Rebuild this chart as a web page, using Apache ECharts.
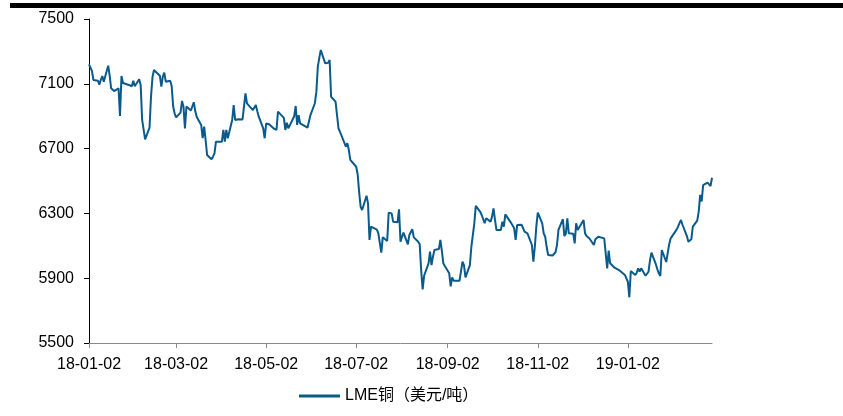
<!DOCTYPE html>
<html>
<head>
<meta charset="utf-8">
<script src="https://cdn.jsdelivr.net/npm/echarts@6/dist/echarts.min.js"></script>
<style>
  html, body { margin: 0; padding: 0; background: #fff; }
  #chart { width: 843px; height: 416px; }
</style>
</head>
<body>
<div id="chart"></div>
<script>
// LME copper daily price, USD per tonne
const dates = [
  '2018-01-02','2018-01-03','2018-01-04','2018-01-05','2018-01-08','2018-01-09','2018-01-10','2018-01-11','2018-01-12','2018-01-15','2018-01-16','2018-01-17','2018-01-18','2018-01-19','2018-01-22','2018-01-23','2018-01-24','2018-01-25','2018-01-26','2018-01-29','2018-01-30','2018-01-31',
  '2018-02-01','2018-02-02','2018-02-05','2018-02-06','2018-02-07','2018-02-08','2018-02-09','2018-02-12','2018-02-13','2018-02-14','2018-02-15','2018-02-16','2018-02-19','2018-02-20','2018-02-21','2018-02-22','2018-02-23','2018-02-26','2018-02-27','2018-02-28',
  '2018-03-01','2018-03-02','2018-03-05','2018-03-06','2018-03-07','2018-03-08','2018-03-09','2018-03-12','2018-03-13','2018-03-14','2018-03-15','2018-03-16','2018-03-19','2018-03-20','2018-03-21','2018-03-22','2018-03-23','2018-03-26','2018-03-27','2018-03-28','2018-03-29','2018-03-30',
  '2018-04-02','2018-04-03','2018-04-04','2018-04-05','2018-04-06','2018-04-09','2018-04-10','2018-04-11','2018-04-12','2018-04-13','2018-04-16','2018-04-17','2018-04-18','2018-04-19','2018-04-20','2018-04-23','2018-04-24','2018-04-25','2018-04-26','2018-04-27','2018-04-30',
  '2018-05-01','2018-05-02','2018-05-03','2018-05-04','2018-05-07','2018-05-08','2018-05-09','2018-05-10','2018-05-11','2018-05-14','2018-05-15','2018-05-16','2018-05-17','2018-05-18','2018-05-21','2018-05-22','2018-05-23','2018-05-24','2018-05-25','2018-05-28','2018-05-29','2018-05-30','2018-05-31',
  '2018-06-01','2018-06-04','2018-06-05','2018-06-06','2018-06-07','2018-06-08','2018-06-11','2018-06-12','2018-06-13','2018-06-14','2018-06-15','2018-06-18','2018-06-19','2018-06-20','2018-06-21','2018-06-22','2018-06-25','2018-06-26','2018-06-27','2018-06-28','2018-06-29',
  '2018-07-02','2018-07-03','2018-07-04','2018-07-05','2018-07-06','2018-07-09','2018-07-10','2018-07-11','2018-07-12','2018-07-13','2018-07-16','2018-07-17','2018-07-18','2018-07-19','2018-07-20','2018-07-23','2018-07-24','2018-07-25','2018-07-26','2018-07-27','2018-07-30','2018-07-31',
  '2018-08-01','2018-08-02','2018-08-03','2018-08-06','2018-08-07','2018-08-08','2018-08-09','2018-08-10','2018-08-13','2018-08-14','2018-08-15','2018-08-16','2018-08-17','2018-08-20','2018-08-21','2018-08-22','2018-08-23','2018-08-24','2018-08-27','2018-08-28','2018-08-29','2018-08-30','2018-08-31',
  '2018-09-03','2018-09-04','2018-09-05','2018-09-06','2018-09-07','2018-09-10','2018-09-11','2018-09-12','2018-09-13','2018-09-14','2018-09-17','2018-09-18','2018-09-19','2018-09-20','2018-09-21','2018-09-24','2018-09-25','2018-09-26','2018-09-27','2018-09-28',
  '2018-10-01','2018-10-02','2018-10-03','2018-10-04','2018-10-05','2018-10-08','2018-10-09','2018-10-10','2018-10-11','2018-10-12','2018-10-15','2018-10-16','2018-10-17','2018-10-18','2018-10-19','2018-10-22','2018-10-23','2018-10-24','2018-10-25','2018-10-26','2018-10-29','2018-10-30','2018-10-31',
  '2018-11-01','2018-11-02','2018-11-05','2018-11-06','2018-11-07','2018-11-08','2018-11-09','2018-11-12','2018-11-13','2018-11-14','2018-11-15','2018-11-16','2018-11-19','2018-11-20','2018-11-21','2018-11-22','2018-11-23','2018-11-26','2018-11-27','2018-11-28','2018-11-29','2018-11-30',
  '2018-12-03','2018-12-04','2018-12-05','2018-12-06','2018-12-07','2018-12-10','2018-12-11','2018-12-12','2018-12-13','2018-12-14','2018-12-17','2018-12-18','2018-12-19','2018-12-20','2018-12-21','2018-12-24','2018-12-27','2018-12-28','2018-12-31',
  '2019-01-02','2019-01-03','2019-01-04','2019-01-07','2019-01-08','2019-01-09','2019-01-10','2019-01-11','2019-01-14','2019-01-15','2019-01-16','2019-01-17','2019-01-18','2019-01-21','2019-01-22','2019-01-23','2019-01-24','2019-01-25','2019-01-28','2019-01-29','2019-01-30','2019-01-31',
  '2019-02-01','2019-02-04','2019-02-05','2019-02-06','2019-02-07','2019-02-08','2019-02-11','2019-02-12','2019-02-13','2019-02-14','2019-02-15','2019-02-18','2019-02-19','2019-02-20','2019-02-21','2019-02-22','2019-02-25','2019-02-26','2019-02-27','2019-02-28'
];

const prices = [
  7220,7200,7180,7123,7119,7095,7125,7148,7113,7212,7150,7072,7060,7055,7072,6901,7148,7105,7093,7093,7090,7085,
  7119,7085,7128,7093,6877,6870,6757,6830,7020,7140,7185,7190,7150,7082,7144,7169,7113,7119,7086,6960,
  6918,6893,6922,6994,6959,6825,6960,6935,6928,6986,6930,6895,6846,6764,6835,6753,6660,6634,6650,6671,6743,6747,
  6743,6815,6743,6815,6764,6877,6969,6877,6880,6881,6880,6890,7041,6979,6990,6938,6950,6969,6930,6897,6825,
  6764,6855,6866,6850,6825,6825,6815,6928,6935,6890,6815,6860,6825,6825,6900,6963,6846,6907,6856,6840,6830,6829,6835,
  6907,6980,7050,7206,7260,7309,7226,7226,7230,7247,7020,6990,6979,6825,6804,6794,6712,6733,6691,6630,6620,
  6588,6540,6430,6340,6321,6409,6362,6136,6218,6215,6200,6177,6187,6058,6153,6130,6305,6305,6300,6249,6245,6325,
  6125,6156,6181,6109,6167,6185,6202,6152,6125,6110,5950,5831,5915,5992,6064,5981,6033,6074,6080,6136,6070,5992,5975,
  5930,5850,5905,5885,5889,5885,5890,6002,5981,5905,5981,6094,6105,6239,6346,6310,6290,6300,6239,6270,
  6249,6280,6331,6260,6198,6198,6249,6218,6294,6290,6240,6228,6208,6136,6228,6230,6210,6187,6198,6177,6105,6002,6094,
  6218,6305,6239,6177,6156,6094,6043,6040,6043,6060,6105,6198,6264,6160,6175,6270,6177,6175,6115,6239,6198,6205,
  6259,6177,6160,6156,6145,6105,6140,6150,6156,6150,6146,6136,5961,6070,5992,5965,5950,5946,5920,
  5878,5782,5944,5920,5934,5961,5940,5961,5915,5909,5940,6010,6058,5985,5955,5930,5914,6074,6000,6002,6110,6146,
  6156,6200,6218,6240,6259,6230,6160,6125,6131,6140,6218,6255,6311,6414,6374,6475,6490,6486,6469,6520
];

// Labelled dates on the date axis (every two months)
const tickDates = ['2018-01-02','2018-03-02','2018-05-02','2018-07-02','2018-09-02','2018-11-02','2019-01-02'];
const axisStart = '2018-01-02';
const axisEnd = '2019-02-28';
const seriesName = 'LME铜（美元/吨）';

function toTime(s) {
  const p = s.split('-').map(Number);
  return Date.UTC(p[0], p[1] - 1, p[2]);
}
function pad(n) { return (n < 10 ? '0' : '') + n; }
function fmt(t) {
  const d = new Date(t);
  return pad(d.getUTCFullYear() % 100) + '-' + pad(d.getUTCMonth() + 1) + '-' + pad(d.getUTCDate());
}

const data = dates.map((d, i) => [toTime(d), prices[i]]);
const tickTimes = tickDates.map(toTime);
const FONT = "'Liberation Sans', Arial, 'Noto Sans CJK SC', sans-serif";

const chart = echarts.init(document.getElementById('chart'), null, { renderer: 'canvas' });
chart.setOption({
  animation: false,
  backgroundColor: '#ffffff',
  textStyle: { fontFamily: FONT },
  graphic: [{
    type: 'rect',
    shape: { x: 10, y: 3, width: 833, height: 5 },
    style: { fill: '#000000' },
    silent: true
  }],
  grid: { left: 89, right: 131, top: 19, bottom: 73, containLabel: false },
  legend: {
    data: [seriesName],
    left: 294,
    top: 383,
    icon: 'rect',
    itemWidth: 41,
    itemHeight: 3,
    itemGap: 10,
    textStyle: { fontFamily: FONT, fontSize: 16, color: '#000000' }
  },
  xAxis: {
    type: 'value',
    min: toTime(axisStart),
    max: toTime(axisEnd),
    splitLine: { show: false },
    axisLine: { show: true, lineStyle: { color: '#8a8a8a', width: 1 } },
    axisTick: { show: true, inside: false, length: 5, lineStyle: { color: '#8a8a8a' }, customValues: tickTimes },
    axisLabel: {
      customValues: tickTimes,
      formatter: function (v) { return fmt(v); },
      fontFamily: FONT,
      fontSize: 16,
      color: '#000000',
      margin: 14
    }
  },
  yAxis: {
    type: 'value',
    min: 5500,
    max: 7500,
    interval: 400,
    splitLine: { show: false },
    axisLine: { show: true, lineStyle: { color: '#000000', width: 1 } },
    axisTick: { show: true, length: 5, lineStyle: { color: '#000000' } },
    axisLabel: {
      formatter: function (v) { return String(v); },
      fontFamily: FONT, fontSize: 16, color: '#000000', margin: 15
    }
  },
  series: [{
    name: seriesName,
    type: 'line',
    data: data,
    showSymbol: false,
    symbol: 'none',
    lineStyle: { color: '#0a5a8c', width: 2 },
    itemStyle: { color: '#0a5a8c' }
  }]
});
</script>
</body>
</html>
